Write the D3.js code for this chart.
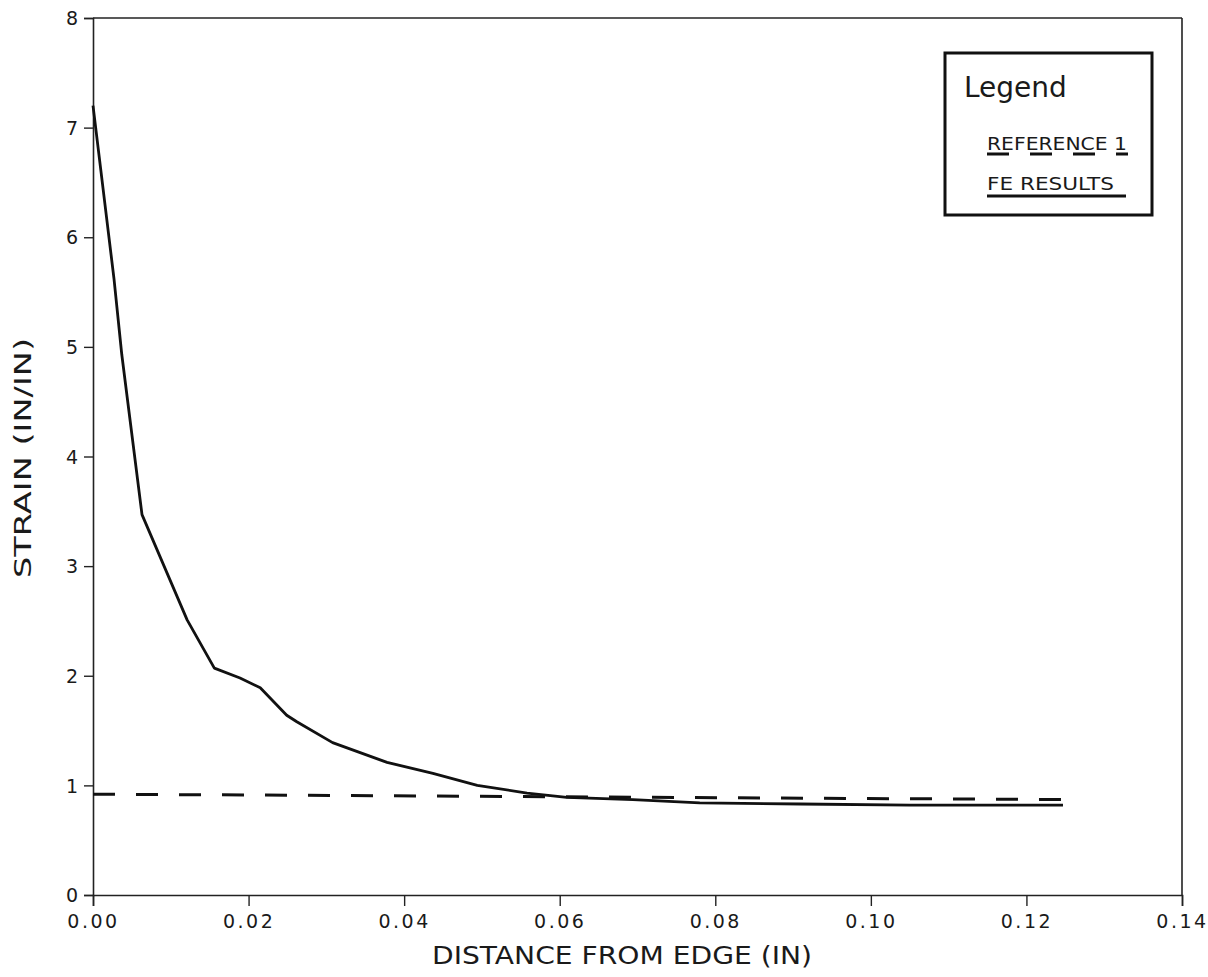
<!DOCTYPE html>
<html>
<head>
<meta charset="utf-8">
<script src="https://cdn.jsdelivr.net/npm/d3@7/dist/d3.min.js"></script>
<style>
  html, body { margin: 0; padding: 0; background: #fff; }
  svg { display: block; }
  text { font-family: "DejaVu Sans", "Liberation Sans", sans-serif; fill: #1a1a1a; }
  .tick text { font-size: 19px !important; }
  .xax .tick text { letter-spacing: 2.5px; }
</style>
</head>
<body>
<svg id="chart" width="1208" height="977"></svg>
<script>
// ---- data ----
const feX = [0.0000, 0.0027, 0.0037, 0.0063, 0.0121, 0.0156, 0.0189, 0.0215, 0.0249, 0.0262,
             0.0308, 0.0378, 0.0437, 0.0494, 0.0558, 0.0609, 0.0694, 0.0780, 0.0909, 0.1050, 0.1247];
const feY = [7.20, 5.62, 4.93, 3.47, 2.51, 2.07, 1.98, 1.89, 1.64, 1.58,
             1.39, 1.21, 1.11, 1.00, 0.93, 0.89, 0.87, 0.84, 0.83, 0.82, 0.82];
const refX = [0.0000, 0.1250];
const refY = [0.92, 0.87];
const xTicks = [0, 0.02, 0.04, 0.06, 0.08, 0.10, 0.12, 0.14];
const xTickLabels = ["0.00", "0.02", "0.04", "0.06", "0.08", "0.10", "0.12", "0.14"];
const yTicks = [0, 1, 2, 3, 4, 5, 6, 7, 8];
const yTickLabels = ["0", "1", "2", "3", "4", "5", "6", "7", "8"];
const legendLabels = ["REFERENCE 1", "FE RESULTS"];

// ---- layout ----
const W = 1208, H = 977;
const margin = {left: 93, top: 18, right: 26, bottom: 82};
const iw = W - margin.left - margin.right;
const ih = H - margin.top - margin.bottom;

const svg = d3.select("#chart");
const g = svg.append("g").attr("transform", `translate(${margin.left},${margin.top})`);

const x = d3.scaleLinear().domain([0, 0.14]).range([0, iw]);
const y = d3.scaleLinear().domain([0, 8]).range([ih, 0]);

// frame (top and right)
g.append("line").attr("x1", 0).attr("x2", iw).attr("y1", 0).attr("y2", 0)
  .attr("stroke", "#222").attr("stroke-width", 1.6);
g.append("line").attr("x1", iw).attr("x2", iw).attr("y1", 0).attr("y2", ih)
  .attr("stroke", "#222").attr("stroke-width", 1.6);

// axes
const xAxis = d3.axisBottom(x).tickValues(xTicks)
  .tickFormat((d, i) => xTickLabels[i]).tickSize(11).tickPadding(9);
const gx = g.append("g").attr("class", "xax").attr("transform", `translate(0,${ih})`).call(xAxis);
const yAxis = d3.axisLeft(y).tickValues(yTicks)
  .tickFormat((d, i) => yTickLabels[i]).tickSize(9).tickPadding(6);
const gy = g.append("g").attr("class", "yax").call(yAxis);

[gx, gy].forEach(a => {
  a.attr("font-size", 19).attr("font-family", "DejaVu Sans");
  a.select(".domain").attr("stroke", "#222").attr("stroke-width", 1.6);
  a.selectAll(".tick line").attr("stroke", "#222").attr("stroke-width", 1.4);
  a.selectAll(".tick text").attr("fill", "#2a2a2a").attr("font-size", 19);
});
gy.selectAll(".tick text").attr("dy", "0.35em");

// axis titles
svg.append("text")
  .attr("x", 622).attr("y", 964)
  .attr("text-anchor", "middle")
  .attr("textLength", 380).attr("lengthAdjust", "spacingAndGlyphs")
  .style("font-size", "25px")
  .text("DISTANCE FROM EDGE (IN)");

svg.append("text")
  .attr("transform", `translate(31,458) rotate(-90)`)
  .attr("text-anchor", "middle")
  .attr("textLength", 240).attr("lengthAdjust", "spacingAndGlyphs")
  .style("font-size", "23px")
  .text("STRAIN (IN/IN)");

// series
const line = d3.line().x(d => x(d[0])).y(d => y(d[1]));
const refData = refX.map((v, i) => [v, refY[i]]);
const feData = feX.map((v, i) => [v, feY[i]]);

g.append("path").datum(refData).attr("d", line)
  .attr("fill", "none").attr("stroke", "#111").attr("stroke-width", 3)
  .attr("stroke-dasharray", "22,21");

g.append("path").datum(feData).attr("d", line)
  .attr("fill", "none").attr("stroke", "#111").attr("stroke-width", 2.8)
  .attr("stroke-linejoin", "round");

// legend
const lg = svg.append("g");
lg.append("rect").attr("x", 945).attr("y", 53).attr("width", 207).attr("height", 162)
  .attr("fill", "#fff").attr("stroke", "#111").attr("stroke-width", 3);
lg.append("text").attr("x", 964).attr("y", 97).style("font-size", "28px").text("Legend");
lg.append("text").attr("x", 987).attr("y", 150)
  .attr("textLength", 140).attr("lengthAdjust", "spacingAndGlyphs")
  .style("font-size", "17px").text(legendLabels[0]);
lg.append("line").attr("x1", 987).attr("x2", 1128).attr("y1", 154).attr("y2", 154)
  .attr("stroke", "#111").attr("stroke-width", 3).attr("stroke-dasharray", "22,21");
lg.append("text").attr("x", 987).attr("y", 190)
  .attr("textLength", 127).attr("lengthAdjust", "spacingAndGlyphs")
  .style("font-size", "17px").text(legendLabels[1]);
lg.append("line").attr("x1", 987).attr("x2", 1126).attr("y1", 196).attr("y2", 196)
  .attr("stroke", "#111").attr("stroke-width", 3);
</script>
</body>
</html>
